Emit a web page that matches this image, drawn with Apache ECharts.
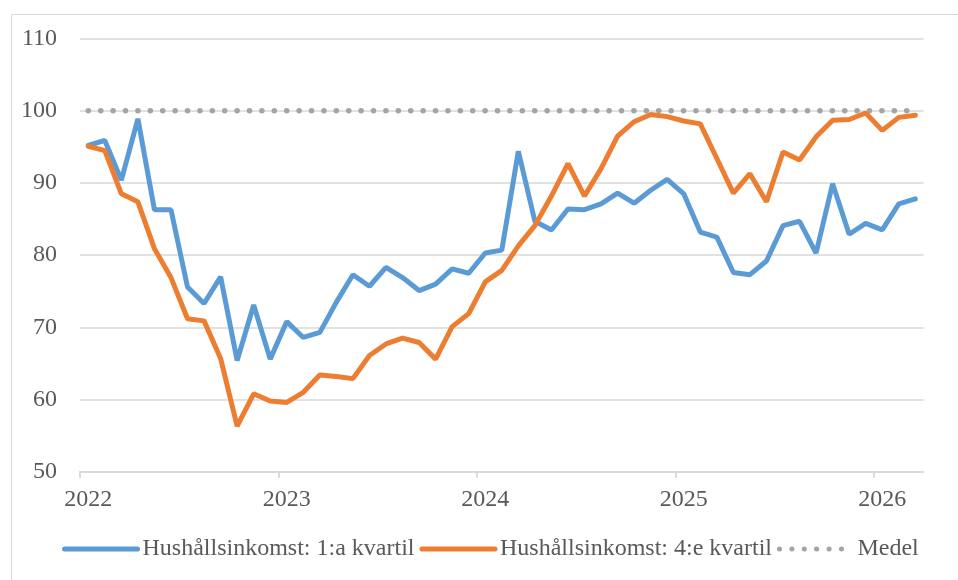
<!DOCTYPE html>
<html>
<head>
<meta charset="utf-8">
<script src="https://cdn.jsdelivr.net/npm/echarts@6/dist/echarts.min.js"></script>
<style>
  html, body { margin: 0; padding: 0; background: #fff; }
  #chart { width: 958px; height: 580px; }
</style>
</head>
<body>
<div id="chart"></div>
<script>
// månader jan 2022 - mar 2026
var months = [
  '2022-01','2022-02','2022-03','2022-04','2022-05','2022-06','2022-07','2022-08','2022-09','2022-10','2022-11','2022-12',
  '2023-01','2023-02','2023-03','2023-04','2023-05','2023-06','2023-07','2023-08','2023-09','2023-10','2023-11','2023-12',
  '2024-01','2024-02','2024-03','2024-04','2024-05','2024-06','2024-07','2024-08','2024-09','2024-10','2024-11','2024-12',
  '2025-01','2025-02','2025-03','2025-04','2025-05','2025-06','2025-07','2025-08','2025-09','2025-10','2025-11','2025-12',
  '2026-01','2026-02','2026-03'
];

var kvartil1 = [
  95.2, 95.9, 90.4, 98.9, 86.3, 86.3, 75.6, 73.3, 77.0, 65.4, 73.1, 65.6,
  70.8, 68.6, 69.3, 73.5, 77.3, 75.7, 78.3, 76.9, 75.1, 76.0, 78.1, 77.5,
  80.3, 80.7, 94.4, 84.7, 83.5, 86.4, 86.3, 87.1, 88.6, 87.2, 89.0, 90.5,
  88.5, 83.2, 82.5, 77.6, 77.3, 79.2, 84.1, 84.7, 80.3, 89.9, 82.9, 84.4,
  83.5, 87.1, 87.8
];

var kvartil4 = [
  95.1, 94.5, 88.5, 87.4, 80.9, 76.9, 71.2, 70.9, 65.7, 56.3, 60.8, 59.8,
  59.6, 61.0, 63.4, 63.2, 62.9, 66.1, 67.7, 68.5, 67.9, 65.6, 70.1, 71.9,
  76.3, 77.9, 81.3, 84.1, 88.2, 92.7, 88.2, 92.0, 96.5, 98.5, 99.5, 99.2,
  98.6, 98.2, 93.4, 88.6, 91.3, 87.4, 94.3, 93.2, 96.4, 98.7, 98.8, 99.7,
  97.3, 99.1, 99.4
];

var medel = months.map(function () { return 100; });

// årsgränser (index i months) där x-axeln har streck
var yearStarts = [0, 12, 24, 36, 48];

var font = '"Liberation Serif", "Times New Roman", serif';

// varje månad ligger mitt i sitt fack: index + 0.5
function toPoints(arr) {
  return arr.map(function (v, i) { return [i + 0.5, v]; });
}

var myChart = echarts.init(document.getElementById('chart'));
var option = {
  backgroundColor: '#fff',
  animation: false,
  graphic: [{
    type: 'rect',
    left: 9, top: 12,
    shape: { width: 1000, height: 1000 },
    style: { fill: null, stroke: '#d9d9d9', lineWidth: 1 },
    silent: true
  }],
  grid: { left: 80, right: 34.4, top: 38.7, bottom: 108.3 },
  legend: {
    left: 62,
    top: 537,
    padding: 0,
    itemWidth: 73,
    itemHeight: 5,
    itemGap: 5,
    lineStyle: { width: 5, cap: 'round' },
    textStyle: { fontFamily: font, fontSize: 24, color: '#595959' },
    data: ['Hushållsinkomst: 1:a kvartil', 'Hushållsinkomst: 4:e kvartil', 'Medel']
  },
  xAxis: {
    type: 'value',
    min: 0,
    max: months.length,
    axisLine: { lineStyle: { color: '#d9d9d9', width: 2 } },
    axisTick: {
      show: true,
      customValues: yearStarts,
      length: 6,
      lineStyle: { color: '#d9d9d9', width: 2 }
    },
    axisLabel: {
      customValues: yearStarts.map(function (i) { return i + 0.5; }),
      margin: 16,
      fontFamily: font,
      fontSize: 24,
      color: '#595959',
      formatter: function (v) { return months[Math.floor(v)].slice(0, 4); }
    },
    splitLine: { show: false }
  },
  yAxis: {
    type: 'value',
    min: 50,
    max: 110,
    interval: 10,
    axisLine: { show: false },
    axisTick: { show: false },
    axisLabel: { margin: 23, fontFamily: font, fontSize: 24, color: '#595959' },
    splitLine: { lineStyle: { color: '#d9d9d9', width: 1.5 } }
  },
  series: [
    {
      name: 'Hushållsinkomst: 1:a kvartil',
      type: 'line',
      data: toPoints(kvartil1),
      symbol: 'none',
      z: 3,
      lineStyle: { color: '#5b9bd5', width: 5, cap: 'round' },
      itemStyle: { color: '#5b9bd5' }
    },
    {
      name: 'Hushållsinkomst: 4:e kvartil',
      type: 'line',
      data: toPoints(kvartil4),
      symbol: 'none',
      z: 4,
      lineStyle: { color: '#ed7d31', width: 5, cap: 'round' },
      itemStyle: { color: '#ed7d31' }
    },
    {
      name: 'Medel',
      type: 'line',
      data: toPoints(medel),
      symbol: 'none',
      z: 2,
      lineStyle: { color: '#a5a5a5', width: 5.5, type: [0.1, 12.3], cap: 'round' },
      itemStyle: { color: '#a5a5a5' }
    }
  ]
};
myChart.setOption(option);
</script>
</body>
</html>
